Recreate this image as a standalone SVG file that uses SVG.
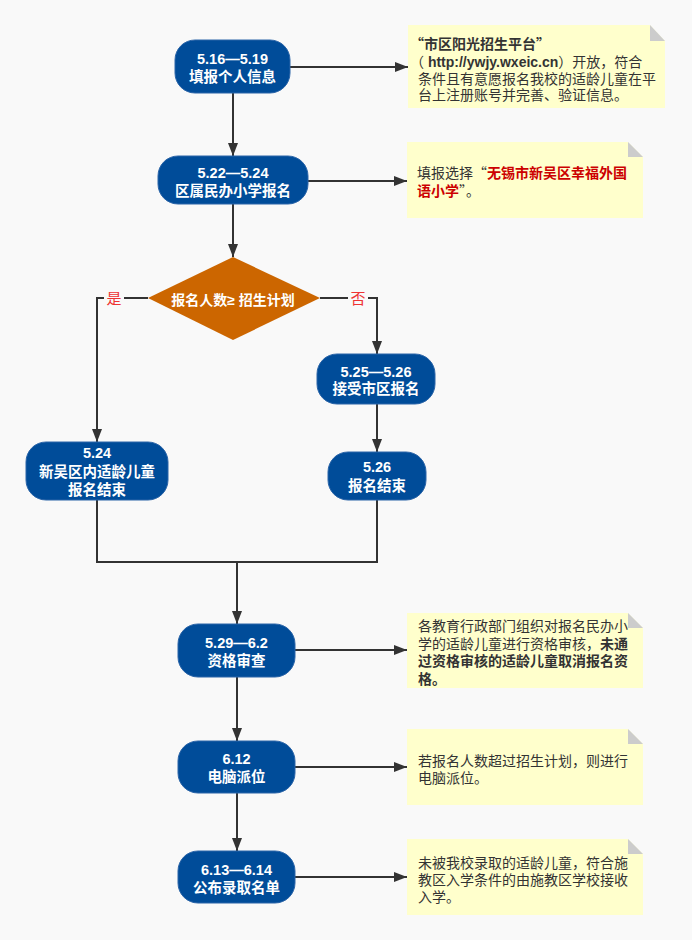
<svg xmlns="http://www.w3.org/2000/svg" width="692" height="940" viewBox="0 0 692 940">
<style>
.bg{fill:#f9f9f9}
.node{fill:#004c99;stroke:#2a64a8;stroke-width:1}
.dia{fill:#cc6600}
.nt{fill:#ffffff;font-family:"Liberation Sans","Noto Sans CJK SC",sans-serif;font-size:14.5px;font-weight:bold;text-anchor:middle}
.note{fill:#ffffcc}
.fold{fill:#cccccc}
.tx{fill:#333333;font-family:"Liberation Sans","Noto Sans CJK SC",sans-serif;font-size:14px}
.cjk{font-family:"Noto Sans CJK SC",sans-serif}
.b{font-weight:bold}
.red{fill:#cc0000;font-weight:bold}
.edge{fill:none;stroke:#333333;stroke-width:2}
.lbl{fill:#ee3333;font-family:"Liberation Sans","Noto Sans CJK SC",sans-serif;font-size:15px;text-anchor:middle}
</style>
<defs>
<marker id="ah" viewBox="0 0 13 10" refX="13" refY="5" markerWidth="13" markerHeight="10" markerUnits="userSpaceOnUse" orient="auto">
<path d="M0,0 L13,5 L0,10 z" fill="#333333"/>
</marker>
</defs>
<rect class="bg" x="0" y="0" width="692" height="940"/>

<g id="connectors">
<path class="edge" d="M233,93 V156" marker-end="url(#ah)"/>
<path class="edge" d="M290,67 H408" marker-end="url(#ah)"/>
<path class="edge" d="M233,204 V257" marker-end="url(#ah)"/>
<path class="edge" d="M308,181 H407" marker-end="url(#ah)"/>
<path class="edge" d="M148,298 H97 V442" marker-end="url(#ah)"/>
<path class="edge" d="M320,298 H377 V354" marker-end="url(#ah)"/>
<path class="edge" d="M377,404 V452" marker-end="url(#ah)"/>
<path class="edge" d="M97,500 V562 H377 V500"/>
<path class="edge" d="M237,562 V624" marker-end="url(#ah)"/>
<path class="edge" d="M237,677 V741" marker-end="url(#ah)"/>
<path class="edge" d="M295,650 H407" marker-end="url(#ah)"/>
<path class="edge" d="M237,793 V851" marker-end="url(#ah)"/>
<path class="edge" d="M295,767 H407" marker-end="url(#ah)"/>
<path class="edge" d="M295,877 H407" marker-end="url(#ah)"/>
<rect class="bg" x="104" y="289" width="20" height="18"/>
<text class="lbl" x="114" y="304">是</text>
<rect class="bg" x="348" y="289" width="20" height="18"/>
<text class="lbl" x="358" y="304">否</text>
</g>

<g id="n1">
<rect class="node" x="175" y="40" width="115" height="53" rx="20"/>
<text class="nt" x="232.5" y="64">5.16—5.19</text>
<text class="nt" x="232.5" y="82">填报个人信息</text>
</g>
<g id="note1">
<path class="note" d="M408,25 H650 L665,41 V108 H408 z"/>
<path class="fold" d="M650,25 L665,41 H650 z"/>
<text class="tx b" x="410" y="49"><tspan class="cjk">“</tspan>市区阳光招生平台<tspan class="cjk">”</tspan></text>
<text class="tx" x="410" y="66.5"><tspan>（ </tspan><tspan class="b">http://ywjy.wxeic.cn</tspan><tspan>）开放，符合</tspan></text>
<text class="tx" x="418" y="84">条件且有意愿报名我校的适龄儿童在平</text>
<text class="tx" x="418" y="100">台上注册账号并完善、验证信息。</text>
</g>

<g id="n2">
<rect class="node" x="158" y="156" width="150" height="48" rx="20"/>
<text class="nt" x="233" y="178">5.22—5.24</text>
<text class="nt" x="233" y="196">区属民办小学报名</text>
</g>
<g id="note2">
<path class="note" d="M407,142 H628 L643,157 V218 H407 z"/>
<path class="fold" d="M628,142 L643,157 H628 z"/>
<text class="tx" x="417" y="178">填报选择<tspan class="cjk">“</tspan><tspan class="red">无锡市新吴区幸福外国</tspan></text>
<text class="tx" x="417" y="196"><tspan class="red">语小学</tspan><tspan class="cjk">”</tspan>。</text>
</g>

<g id="d1">
<polygon class="dia" points="148,298 233,257 320,298 233,340"/>
<text class="nt" x="233" y="305" style="font-size:14px">报名人数≥ 招生计划</text>
</g>

<g id="n3">
<rect class="node" x="317" y="354" width="118" height="50" rx="20"/>
<text class="nt" x="376" y="377">5.25—5.26</text>
<text class="nt" x="376" y="394">接受市区报名</text>
</g>

<g id="n4">
<rect class="node" x="26" y="442" width="142" height="58" rx="20"/>
<text class="nt" x="97" y="458">5.24</text>
<text class="nt" x="97" y="477">新吴区内适龄儿童</text>
<text class="nt" x="97" y="495">报名结束</text>
</g>

<g id="n5">
<rect class="node" x="328" y="452" width="98" height="48" rx="20"/>
<text class="nt" x="377" y="472">5.26</text>
<text class="nt" x="377" y="491">报名结束</text>
</g>

<g id="n6">
<rect class="node" x="178" y="624" width="117" height="53" rx="20"/>
<text class="nt" x="236.5" y="648">5.29—6.2</text>
<text class="nt" x="236.5" y="666">资格审查</text>
</g>
<g id="note3">
<path class="note" d="M407,613 H628 L643,628 V688 H407 z"/>
<path class="fold" d="M628,613 L643,628 H628 z"/>
<text class="tx" x="418" y="631">各教育行政部门组织对报名民办小</text>
<text class="tx" x="418" y="648.5">学的适龄儿童进行资格审核，<tspan class="b">未通</tspan></text>
<text class="tx b" x="418" y="666">过资格审核的适龄儿童取消报名资</text>
<text class="tx b" x="418" y="683.5">格。</text>
</g>

<g id="n7">
<rect class="node" x="178" y="741" width="117" height="52" rx="20"/>
<text class="nt" x="236.5" y="764">6.12</text>
<text class="nt" x="236.5" y="782">电脑派位</text>
</g>
<g id="note4">
<path class="note" d="M407,729 H628 L643,744 V805 H407 z"/>
<path class="fold" d="M628,729 L643,744 H628 z"/>
<text class="tx" x="418" y="766">若报名人数超过招生计划，则进行</text>
<text class="tx" x="418" y="783">电脑派位。</text>
</g>

<g id="n8">
<rect class="node" x="178" y="851" width="117" height="52" rx="20"/>
<text class="nt" x="236.5" y="875">6.13—6.14</text>
<text class="nt" x="236.5" y="893">公布录取名单</text>
</g>
<g id="note5">
<path class="note" d="M407,839 H628 L643,854 V915 H407 z"/>
<path class="fold" d="M628,839 L643,854 H628 z"/>
<text class="tx" x="418" y="868">未被我校录取的适龄儿童，符合施</text>
<text class="tx" x="418" y="885">教区入学条件的由施教区学校接收</text>
<text class="tx" x="418" y="902">入学。</text>
</g>
</svg>
